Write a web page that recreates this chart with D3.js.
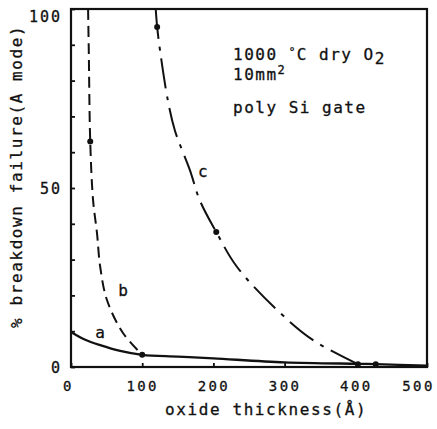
<!DOCTYPE html>
<html>
<head>
<meta charset="utf-8">
<script src="https://cdn.jsdelivr.net/npm/d3@7"></script>
<style>
  body { margin: 0; background: #fff; }
  text { font-family: "DejaVu Sans Mono", monospace; fill: #111; stroke: #111; stroke-width: 0.3px; }
</style>
</head>
<body>
<div class="chart"></div>
<script>
// thickness (A) vs % breakdown failure
const curveA = [[0, 9.8], [20, 7.6], [41, 6.1], [69, 4.5], [100, 3.4], [150, 2.9], [200, 2.4], [300, 1.3], [403, 0.9], [428, 0.8], [500, 0.4]];
const curveB = [[24, 100], [25, 88], [27, 63], [31, 46.6], [36.5, 37.4], [41, 28], [50.5, 18.7], [73, 9.5], [100, 3.4]];
const curveC = [[119, 100], [121, 95], [125, 88.5], [136, 74.5], [146, 66], [167, 55], [181, 46.5], [204, 37.7], [233, 28], [289, 16], [340, 7.5], [403, 0.8]];
const markers = [[27, 63], [100, 3.4], [121, 95], [204, 37.7], [403, 0.8], [428, 0.8]];
const curveLabels = [['a', 41, 9.8], ['b', 73, 21.5], ['c', 185, 54.5]];
const xTicks = [0, 100, 200, 300, 400, 500];
const yTicks = d3.range(0, 101, 10);
const yLabelTicks = [0, 50, 100];

function drawChart() {
  const w = 437, h = 429;
  const margin = { top: 9, right: 10, bottom: 62, left: 71 };

  const svg = d3.select('.chart').append('svg')
    .attr('width', w)
    .attr('height', h);

  const x = d3.scaleLinear().domain([0, 500]).range([margin.left, w - margin.right]);
  const y = d3.scaleLinear().domain([0, 100]).range([h - margin.bottom, margin.top]);

  // frame
  svg.append('rect')
    .attr('x', x(0)).attr('y', y(100))
    .attr('width', x(500) - x(0)).attr('height', y(0) - y(100))
    .attr('fill', 'none').attr('stroke', '#111').attr('stroke-width', 2.2);

  // inward ticks, labels outside
  const yAxis = svg.append('g')
    .attr('transform', `translate(${x(0)},0)`)
    .call(d3.axisLeft(y).tickValues(yTicks).tickSize(-4).tickPadding(9)
      .tickFormat(d => yLabelTicks.includes(d) ? d : ''));
  const xAxis = svg.append('g')
    .attr('transform', `translate(0,${y(0)})`)
    .call(d3.axisBottom(x).tickValues(xTicks).tickSize(-4).tickPadding(14));

  [xAxis, yAxis].forEach(g => {
    g.select('.domain').remove();
    g.selectAll('line').attr('stroke', '#111').attr('stroke-width', 1.8);
    g.selectAll('text')
      .style('font-family', '"DejaVu Sans Mono", monospace')
      .style('font-size', '14px')
      .style('letter-spacing', '2.4px')
      .attr('fill', '#111');
  });
  yAxis.selectAll('text').style('font-size', '15px').style('letter-spacing', '2px').attr('dy', '0.36em');
  yAxis.selectAll('.tick').filter(d => d === 100).select('text').attr('dy', '0.8em');
  xAxis.selectAll('.tick').filter(d => d === 0).select('text').attr('dx', -3);
  xAxis.selectAll('.tick').filter(d => d === 500).select('text').attr('dx', -9);

  // curves
  const line = d3.line()
    .x(d => x(d[0]))
    .y(d => y(d[1]))
    .curve(d3.curveCatmullRom.alpha(0.5));

  svg.append('path').datum(curveA)
    .attr('d', line).attr('fill', 'none')
    .attr('stroke', '#111').attr('stroke-width', 2.3);
  svg.append('path').datum(curveB)
    .attr('d', line).attr('fill', 'none')
    .attr('stroke', '#111').attr('stroke-width', 2)
    .attr('stroke-dasharray', '11,6');
  svg.append('path').datum(curveC)
    .attr('d', line).attr('fill', 'none')
    .attr('stroke', '#111').attr('stroke-width', 2)
    .attr('stroke-dasharray', '30,8,4,8');

  svg.selectAll('.dot').data(markers).enter()
    .append('circle')
    .attr('class', 'dot')
    .attr('cx', d => x(d[0]))
    .attr('cy', d => y(d[1]))
    .attr('r', 3)
    .attr('fill', '#111');

  svg.selectAll('.clab').data(curveLabels).enter()
    .append('text')
    .attr('class', 'clab')
    .attr('x', d => x(d[1]))
    .attr('y', d => y(d[2]))
    .attr('dy', '0.35em')
    .attr('text-anchor', 'middle')
    .style('font-size', '16px')
    .text(d => d[0]);

  // annotation
  const note = svg.append('g').style('font-size', '16px').style('letter-spacing', '1.5px');
  const l1 = note.append('text').attr('x', 233).attr('y', 60);
  l1.append('tspan').text('1000 ');
  l1.append('tspan').attr('dy', -5).style('font-size', '11px').text('°');
  l1.append('tspan').attr('dy', 5).text('C dry O');
  l1.append('tspan').attr('dy', 4).text('2');
  const l2 = note.append('text').attr('x', 233).attr('y', 80);
  l2.append('tspan').text('10mm');
  l2.append('tspan').attr('dy', -6).style('font-size', '12px').text('2');
  note.append('text').attr('x', 233).attr('y', 113).text('poly Si gate');

  // axis titles
  svg.append('text')
    .attr('x', 165).attr('y', 415)
    .style('font-size', '16px').style('letter-spacing', '1.6px')
    .text('oxide thickness(Å)');
  svg.append('text')
    .attr('transform', 'translate(22,328) rotate(-90)')
    .style('font-size', '16px').style('letter-spacing', '1.6px')
    .text('% breakdown failure(A mode)');
}

drawChart();
</script>
</body>
</html>
